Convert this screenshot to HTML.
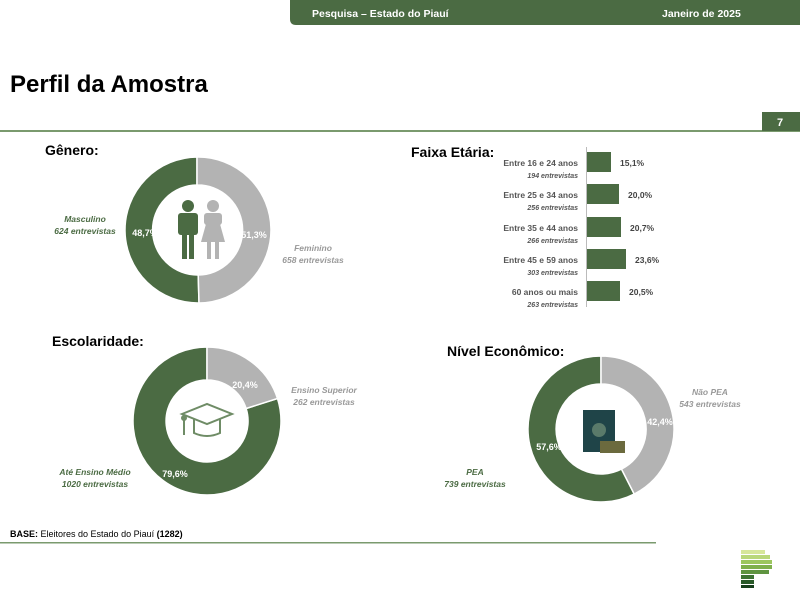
<!DOCTYPE html>
<html><head><meta charset="utf-8"><style>
body{margin:0;background:#fff}
svg{display:block;font-family:"Liberation Sans",sans-serif}
.b{font-weight:bold}
</style></head><body>
<svg width="800" height="596" viewBox="0 0 800 596">
<path d="M290 0H800V25H296Q290 25 290 19Z" fill="#4b6b43"/>
<text x="312" y="17" font-size="10.5" class="b" fill="#fff">Pesquisa – Estado do Piauí</text>
<text x="662" y="17" font-size="10.5" class="b" fill="#fff">Janeiro de 2025</text>
<text x="10" y="92" font-size="24" class="b" fill="#000">Perfil da Amostra</text>
<rect x="0" y="130" width="800" height="2" fill="#7a9a6e"/>
<rect x="762" y="112" width="38" height="19" fill="#4b6b43"/>
<text x="777" y="126" font-size="11" class="b" fill="#fff">7</text>

<!-- Genero -->
<text x="45" y="155" font-size="14" class="b">Gênero:</text>
<g transform="translate(197,230)">
<path d="M0 -73A73 73 0 0 0 2 73L1.2 45A45 45 0 0 1 0 -45Z" fill="#4b6b43" stroke="#fff" stroke-width="1.5"/>
<path d="M0 -73A73 73 0 0 1 2 73L1.2 45A45 45 0 0 0 0 -45Z" fill="#b3b3b3" stroke="#fff" stroke-width="1.5"/>
<circle cx="-9" cy="-24" r="6" fill="#4b6b43"/>
<rect x="-19" y="-17" width="20" height="22" rx="3" fill="#4b6b43"/>
<rect x="-15" y="4" width="5" height="25" fill="#4b6b43"/><rect x="-8" y="4" width="5" height="25" fill="#4b6b43"/>
<circle cx="16" cy="-24" r="6" fill="#b3b3b3"/>
<rect x="7" y="-17" width="18" height="12" rx="3" fill="#b3b3b3"/>
<path d="M9 -6H23L28 12H4Z" fill="#b3b3b3"/>
<rect x="10" y="12" width="4" height="17" fill="#b3b3b3"/><rect x="18" y="12" width="4" height="17" fill="#b3b3b3"/>
</g>
<text x="145" y="236" font-size="9" class="b" fill="#fff" text-anchor="middle">48,7%</text>
<text x="254" y="238" font-size="9" class="b" fill="#fff" text-anchor="middle">51,3%</text>
<g font-size="8.5" class="b" font-style="italic" text-anchor="middle">
<text x="85" y="222" fill="#4b6b43">Masculino</text><text x="85" y="234" fill="#4b6b43">624 entrevistas</text>
<text x="313" y="251" fill="#999">Feminino</text><text x="313" y="263" fill="#999">658 entrevistas</text>
</g>

<!-- Faixa -->
<text x="411" y="157" font-size="14" class="b">Faixa Etária:</text>
<line x1="586.5" y1="147" x2="586.5" y2="307" stroke="#bbb"/>
<g fill="#4b6b43">
<rect x="587" y="152" width="24" height="20"/>
<rect x="587" y="184" width="32" height="20"/>
<rect x="587" y="217" width="34" height="20"/>
<rect x="587" y="249" width="39" height="20"/>
<rect x="587" y="281" width="33" height="20"/>
</g>
<g font-size="8.5" class="b" fill="#444">
<text x="620" y="166">15,1%</text><text x="628" y="198">20,0%</text><text x="630" y="231">20,7%</text><text x="635" y="263">23,6%</text><text x="629" y="295">20,5%</text>
</g>
<g font-size="8.5" class="b" fill="#555" text-anchor="end">
<text x="578" y="166">Entre 16 e 24 anos</text><text x="578" y="198">Entre 25 e 34 anos</text><text x="578" y="231">Entre 35 e 44 anos</text><text x="578" y="263">Entre 45 e 59 anos</text><text x="578" y="295">60 anos ou mais</text>
</g>
<g font-size="7" class="b" font-style="italic" fill="#555" text-anchor="end">
<text x="578" y="178">194 entrevistas</text><text x="578" y="210">256 entrevistas</text><text x="578" y="243">266 entrevistas</text><text x="578" y="275">303 entrevistas</text><text x="578" y="307">263 entrevistas</text>
</g>

<!-- Escolaridade -->
<text x="52" y="346" font-size="14" class="b">Escolaridade:</text>
<g transform="translate(207,421)">
<path d="M0 -74A74 74 0 1 0 70.5 -22.5L39.1 -12.5A41 41 0 1 1 0 -41Z" fill="#4b6b43" stroke="#fff" stroke-width="1.5"/>
<path d="M0 -74A74 74 0 0 1 70.5 -22.5L39.1 -12.5A41 41 0 0 0 0 -41Z" fill="#b3b3b3" stroke="#fff" stroke-width="1.5"/>
<g fill="none" stroke="#6f8c66" stroke-width="2">
<path d="M-25 -7L0 -17L25 -7L0 3Z"/><path d="M-13 -2V12Q0 18 13 12V-2"/><path d="M-23 -6V14"/><circle cx="-23" cy="-3" r="2"/>
</g>
</g>
<text x="245" y="388" font-size="9" class="b" fill="#fff" text-anchor="middle">20,4%</text>
<text x="175" y="477" font-size="9" class="b" fill="#fff" text-anchor="middle">79,6%</text>
<g font-size="8.5" class="b" font-style="italic" text-anchor="middle">
<text x="324" y="393" fill="#999">Ensino Superior</text><text x="324" y="405" fill="#999">262 entrevistas</text>
<text x="95" y="475" fill="#4b6b43">Até Ensino Médio</text><text x="95" y="487" fill="#4b6b43">1020 entrevistas</text>
</g>

<!-- Nivel -->
<text x="447" y="356" font-size="14" class="b">Nível Econômico:</text>
<g transform="translate(601,429)">
<path d="M0 -73A73 73 0 1 0 33.2 65L20.5 40.1A45 45 0 1 1 0 -45Z" fill="#4b6b43" stroke="#fff" stroke-width="1.5"/>
<path d="M0 -73A73 73 0 0 1 33.2 65L20.5 40.1A45 45 0 0 0 0 -45Z" fill="#b3b3b3" stroke="#fff" stroke-width="1.5"/>
<rect x="-18" y="-19" width="32" height="42" fill="#1f4448"/>
<circle cx="-2" cy="1" r="7" fill="#5a7a6a"/>
<rect x="-1" y="12" width="25" height="12" fill="#6b6a3e"/>
</g>
<text x="660" y="425" font-size="9" class="b" fill="#fff" text-anchor="middle">42,4%</text>
<text x="549" y="450" font-size="9" class="b" fill="#fff" text-anchor="middle">57,6%</text>
<g font-size="8.5" class="b" font-style="italic" text-anchor="middle">
<text x="710" y="395" fill="#999">Não PEA</text><text x="710" y="407" fill="#999">543 entrevistas</text>
<text x="475" y="475" fill="#4b6b43">PEA</text><text x="475" y="487" fill="#4b6b43">739 entrevistas</text>
</g>

<text x="10" y="537" font-size="9" fill="#000"><tspan class="b">BASE:</tspan> Eleitores do Estado do Piauí <tspan class="b">(1282)</tspan></text>
<rect x="0" y="542" width="656" height="1.5" fill="#7a9a6e"/>
<g>
<rect x="741" y="550" width="24" height="4" fill="#d6e69a"/>
<rect x="741" y="555" width="29" height="4" fill="#b9d77a"/>
<rect x="741" y="560" width="31" height="4" fill="#9cc65e"/>
<rect x="741" y="565" width="31" height="4" fill="#7fb04c"/>
<rect x="741" y="570" width="28" height="4" fill="#5f9440"/>
<rect x="741" y="575" width="13" height="4" fill="#3e7434"/>
<rect x="741" y="580" width="13" height="4" fill="#295a28"/>
<rect x="741" y="585" width="13" height="3" fill="#173f1c"/>
</g>
</svg>
</body></html>
